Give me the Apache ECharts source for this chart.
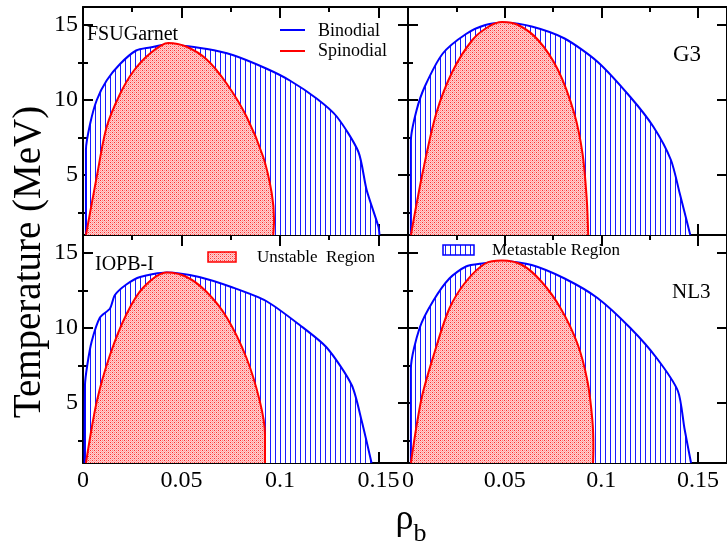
<!DOCTYPE html>
<html>
<head>
<meta charset="utf-8">
<script src="https://cdn.jsdelivr.net/npm/echarts@6/dist/echarts.min.js"></script>
<style>
html,body{margin:0;padding:0;background:#fff;}
#chart{width:727px;height:547px;}
</style>
</head>
<body>
<div id="chart"></div>
<script>
// ---- data: [rho_b, T(MeV)] ----
const fsuBinodial = [[0.0015,1.0],[0.0015,6.7],[0.0036,8.4],[0.007,10.0],[0.012,11.3],[0.0188,12.4],[0.027,13.3],[0.034,13.5],[0.0425,13.7],[0.063,13.4],[0.076,13.0],[0.093,12.1],[0.105,11.3],[0.1186,10.1],[0.1288,8.9],[0.1398,6.55],[0.144,4.0],[0.150,1.55],[0.1505,1.0]];
const fsuSpinodial = [[0.0015,1.0],[0.007,4.9],[0.012,8.2],[0.0188,10.4],[0.0255,11.9],[0.034,13.1],[0.0433,13.8],[0.0526,13.55],[0.0628,12.7],[0.0729,11.1],[0.083,8.9],[0.0915,6.2],[0.0958,3.8],[0.097,2.0],[0.0966,1.0]];
const g3Binodial = [[0.0015,1.0],[0.0015,7.3],[0.0044,9.3],[0.0087,10.9],[0.018,13.1],[0.030,14.4],[0.040,15.0],[0.0503,15.15],[0.064,14.9],[0.081,14.1],[0.098,12.55],[0.115,10.2],[0.127,8.2],[0.136,6.0],[0.1405,3.8],[0.146,1.0]];
const g3Spinodial = [[0.0015,1.0],[0.0078,5.3],[0.0146,9.1],[0.023,11.9],[0.0333,14.0],[0.0418,14.9],[0.0486,15.2],[0.057,15.0],[0.0673,14.0],[0.0776,12.0],[0.086,9.1],[0.0903,6.4],[0.0925,3.3],[0.0932,1.0]];
const iopbBinodial = [[0.0008,1.0],[0.001,6.2],[0.0022,7.55],[0.0044,9.1],[0.0086,10.7],[0.0137,11.3],[0.0162,12.2],[0.022,12.9],[0.029,13.4],[0.0425,13.7],[0.059,13.4],[0.076,12.7],[0.093,11.8],[0.110,10.2],[0.1237,8.7],[0.1364,6.2],[0.1415,3.8],[0.1465,1.0]];
const iopbSpinodial = [[0.0015,1.0],[0.007,5.1],[0.0137,8.2],[0.022,10.9],[0.0306,12.7],[0.0425,13.7],[0.0526,13.4],[0.0628,12.4],[0.073,10.7],[0.083,8.0],[0.0898,5.1],[0.0924,2.9],[0.0924,1.0]];
const nl3Binodial = [[0.0015,1.0],[0.0015,7.3],[0.006,10.0],[0.013,11.8],[0.0214,13.3],[0.030,14.1],[0.0384,14.3],[0.0503,14.45],[0.064,14.2],[0.081,13.3],[0.098,12.0],[0.115,10.0],[0.1286,8.0],[0.1396,5.8],[0.143,3.3],[0.1464,1.0]];
const nl3Spinodial = [[0.0015,1.0],[0.007,5.3],[0.0138,8.4],[0.0214,11.3],[0.030,13.1],[0.040,14.3],[0.0486,14.5],[0.059,14.2],[0.069,13.1],[0.079,11.3],[0.0878,8.9],[0.0929,6.4],[0.0954,3.8],[0.0959,2.0],[0.0957,1.0]];
const panelNames = ['FSUGarnet','G3','IOPB-I','NL3'];
const yMajorTicks = [5,10,15];
const yMinorTicks = [2.5,7.5,12.5];

// ---- patterns ----
function hatchPattern(){
  const c=document.createElement('canvas'); c.width=5; c.height=4;
  const g=c.getContext('2d'); g.fillStyle='#ffffff'; g.fillRect(0,0,5,4);
  g.fillStyle='#1a1aff'; g.fillRect(0,0,1,4); return c;
}
function dotPattern(){
  const c=document.createElement('canvas'); c.width=4; c.height=4;
  const g=c.getContext('2d'); g.fillStyle='#ffd2d2'; g.fillRect(0,0,4,4);
  g.fillStyle='#ff2a2a'; g.fillRect(0,0,1,1); g.fillRect(2,2,1,1);
  g.fillStyle='#ff8080'; g.fillRect(2,0,1,1); g.fillRect(0,2,1,1);
  g.fillStyle='#ffaaaa'; g.fillRect(1,1,1,1); g.fillRect(3,3,1,1); g.fillRect(1,3,1,1); g.fillRect(3,1,1,1);
  return c;
}
const blueFill={image:hatchPattern(),repeat:'repeat'};
const redFill={image:dotPattern(),repeat:'repeat'};

const curves=[[fsuBinodial,fsuSpinodial],[g3Binodial,g3Spinodial],[iopbBinodial,iopbSpinodial],[nl3Binodial,nl3Spinodial]];
const gridBoxes=[{left:83,top:7},{left:408,top:7},{left:83,top:235},{left:408,top:235}];
const W=325,H=228;
const font='Liberation Serif';

const grid=[],xAxis=[],yAxis=[],series=[];
gridBoxes.forEach((b,i)=>{
  grid.push({left:b.left,top:b.top,width:W,height:H,show:false});
  const bottomRow=i>=2;
  const xBase={type:'value',gridIndex:i,min:0,max:0.165,interval:0.05,splitLine:{show:false},
    axisLine:{show:true,onZero:false,lineStyle:{color:'#000',width:2}},
    axisTick:{show:true,inside:true,length:11,lineStyle:{color:'#000',width:2}},
    minorTick:{show:true,splitNumber:2,length:5,lineStyle:{color:'#000',width:2}},
    minorSplitLine:{show:false}};
  xAxis.push(Object.assign({},xBase,{position:'bottom',
    axisLabel:{show:bottomRow,fontFamily:font,fontSize:24,color:'#000',margin:6,showMaxLabel:false}}));
  xAxis.push(Object.assign({},xBase,{position:'top',axisLabel:{show:false}}));
  const yBase={type:'value',gridIndex:i,min:1,max:16.2,splitLine:{show:false},
    axisLine:{show:true,onZero:false,lineStyle:{color:'#000',width:2}}};
  ['left','right'].forEach(pos=>{
    yAxis.push(Object.assign({},yBase,{position:pos,
      axisTick:{show:true,inside:true,length:10,customValues:yMajorTicks,lineStyle:{color:'#000',width:2}},
      axisLabel:{show:(pos==='left'&&i%2===0),customValues:yMajorTicks,fontFamily:font,fontSize:24,color:'#000',margin:5}}));
    yAxis.push(Object.assign({},yBase,{position:pos,
      axisLine:{show:false},
      axisTick:{show:true,inside:true,length:5,customValues:yMinorTicks,lineStyle:{color:'#000',width:2}},
      axisLabel:{show:false}}));
  });
  const xi=i*2, yi=i*4;
  series.push({type:'line',name:'Binodial',xAxisIndex:xi,yAxisIndex:yi,data:curves[i][0],showSymbol:false,smooth:0.25,
    lineStyle:{color:'#0000ff',width:2},areaStyle:{color:blueFill,opacity:1,origin:'start'},z:2,silent:true});
  series.push({type:'line',name:'Spinodial',xAxisIndex:xi,yAxisIndex:yi,data:curves[i][1],showSymbol:false,smooth:0.3,
    lineStyle:{color:'#ff0000',width:2},areaStyle:{color:redFill,opacity:1,origin:'start'},z:3,silent:true});
});

const txt=(x,y,t,size,align)=>({type:'text',x:x,y:y,z:100,style:{text:t,fontFamily:font,fontSize:size,fill:'#000',align:align||'left',verticalAlign:'middle'}});
const graphic=[
  txt(87,35,panelNames[0],20),
  txt(673,55,panelNames[1],23),
  txt(95,265,panelNames[2],20),
  txt(672,292,panelNames[3],21),
  {type:'line',z:100,shape:{x1:280,y1:30,x2:305,y2:30},style:{stroke:'#0000ff',lineWidth:2}},
  txt(318,31,'Binodial',18),
  {type:'line',z:100,shape:{x1:280,y1:51,x2:305,y2:51},style:{stroke:'#ff0000',lineWidth:2}},
  txt(318,51,'Spinodial',18),
  {type:'rect',z:100,shape:{x:208,y:252,width:28,height:10},style:{fill:redFill,stroke:'#ff0000',lineWidth:1.5}},
  txt(257,258,'Unstable  Region',17),
  {type:'rect',z:100,shape:{x:443,y:245,width:31,height:10},style:{fill:blueFill,stroke:'#0000ff',lineWidth:1.5}},
  txt(492,251,'Metastable Region',17),
  {type:'text',z:100,x:30,y:262,rotation:Math.PI/2,style:{text:'Temperature (MeV)',fontFamily:font,fontSize:39,fill:'#000',align:'center',verticalAlign:'middle'}},
  {type:'text',z:100,x:411,y:520,style:{text:'{r|ρ}{s|b}',fontFamily:font,align:'center',verticalAlign:'middle',
    rich:{r:{fontFamily:font,fontSize:36,fill:'#000'},s:{fontFamily:font,fontSize:26,fill:'#000',padding:[28,0,0,0]}}}}
];

const chart=echarts.init(document.getElementById('chart'),null,{renderer:'canvas'});
chart.setOption({animation:false,backgroundColor:'#fff',grid,xAxis,yAxis,series,graphic});
</script>
</body>
</html>
